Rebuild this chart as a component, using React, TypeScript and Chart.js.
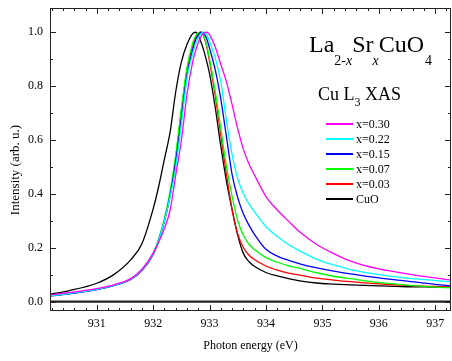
import { useEffect, useRef } from 'react';
import { Chart, registerables } from 'chart.js';

Chart.register(...registerables);

// ---- data ----
const ENERGY = [930.17, 930.5, 931.0, 931.3, 931.6, 931.8, 932.0, 932.1, 932.2, 932.3, 932.4, 932.5, 932.6, 932.7, 932.75, 932.8, 932.85, 932.9, 932.95, 933.0, 933.1, 933.2, 933.3, 933.4, 933.5, 933.6, 933.7, 933.8, 934.0, 934.2, 934.4, 934.6, 934.9, 935.2, 935.5, 936.0, 936.5, 937.0, 937.3];

const X030 = [0.025, 0.033, 0.048, 0.062, 0.085, 0.120, 0.180, 0.222, 0.272, 0.340, 0.470, 0.600, 0.770, 0.890, 0.930, 0.962, 0.985, 0.998, 1.000, 0.990, 0.945, 0.880, 0.815, 0.730, 0.640, 0.565, 0.510, 0.468, 0.390, 0.340, 0.298, 0.258, 0.212, 0.178, 0.150, 0.121, 0.103, 0.088, 0.079];
const X022 = [0.021, 0.030, 0.045, 0.060, 0.083, 0.117, 0.177, 0.230, 0.300, 0.390, 0.500, 0.660, 0.830, 0.920, 0.955, 0.980, 0.995, 1.000, 0.990, 0.965, 0.905, 0.815, 0.670, 0.545, 0.455, 0.400, 0.362, 0.332, 0.278, 0.242, 0.212, 0.188, 0.157, 0.136, 0.119, 0.100, 0.087, 0.078, 0.073];
const X015 = [0.020, 0.029, 0.044, 0.059, 0.082, 0.116, 0.176, 0.230, 0.300, 0.395, 0.520, 0.680, 0.840, 0.935, 0.970, 0.990, 1.000, 0.995, 0.975, 0.940, 0.860, 0.750, 0.610, 0.470, 0.385, 0.325, 0.283, 0.248, 0.194, 0.169, 0.153, 0.140, 0.125, 0.113, 0.103, 0.088, 0.076, 0.064, 0.058];
const X007 = [0.022, 0.030, 0.045, 0.060, 0.083, 0.118, 0.180, 0.235, 0.310, 0.410, 0.545, 0.720, 0.870, 0.960, 0.985, 0.998, 1.000, 0.985, 0.950, 0.900, 0.780, 0.640, 0.500, 0.390, 0.300, 0.245, 0.212, 0.192, 0.163, 0.146, 0.133, 0.123, 0.107, 0.094, 0.085, 0.071, 0.061, 0.054, 0.051];
const X003 = [0.022, 0.030, 0.045, 0.060, 0.082, 0.115, 0.175, 0.228, 0.300, 0.395, 0.535, 0.705, 0.860, 0.950, 0.980, 0.997, 1.000, 0.982, 0.945, 0.890, 0.765, 0.615, 0.470, 0.340, 0.250, 0.200, 0.172, 0.155, 0.132, 0.117, 0.106, 0.098, 0.087, 0.080, 0.074, 0.066, 0.060, 0.056, 0.054];
const CUO = [0.027, 0.040, 0.068, 0.100, 0.155, 0.215, 0.345, 0.430, 0.530, 0.630, 0.780, 0.890, 0.955, 0.995, 1.000, 0.988, 0.962, 0.930, 0.890, 0.845, 0.720, 0.575, 0.445, 0.340, 0.245, 0.178, 0.148, 0.130, 0.108, 0.095, 0.085, 0.077, 0.069, 0.065, 0.062, 0.058, 0.055, 0.054, 0.053];

const SERIES_LABELS = ['x=0.30', 'x=0.22', 'x=0.15', 'x=0.07', 'x=0.03', 'CuO'];
const SERIES_VALUES = [X030, X022, X015, X007, X003, CUO];
const SERIES_COLORS = ['#ff00ff', '#00ffff', '#0000ff', '#00ff00', '#ff0000', '#000000'];

const X_TICKS = [931, 932, 933, 934, 935, 936, 937];
const Y_TICKS = [0, 0.2, 0.4, 0.6, 0.8, 1.0];
const X_MIN = 930.17;
const X_MAX = 937.28;
const Y_MIN = -0.035;
const Y_MAX = 1.09;
const X_MINOR = 0.2;
const Y_MINOR = 0.1;

const X_TITLE = 'Photon energy (eV)';
const Y_TITLE = 'Intensity (arb. u.)';

const FONT = "'Liberation Serif', 'Times New Roman', serif";

const decorPlugin = {
  id: 'decor',
  afterDraw(chart: any) {
    const { ctx, chartArea, scales } = chart;
    const { left, right, top, bottom } = chartArea;
    const xs = scales.x;
    const ys = scales.y;
    ctx.save();

    // zero line
    const y0 = ys.getPixelForValue(0);
    ctx.strokeStyle = '#222';
    ctx.lineWidth = 2.2;
    ctx.beginPath();
    ctx.moveTo(left, y0);
    ctx.lineTo(right, y0);
    ctx.stroke();

    // frame
    ctx.lineWidth = 1;
    ctx.strokeStyle = '#222';
    ctx.strokeRect(left + 0.5, top + 0.5, right - left - 1, bottom - top - 1);

    // ticks (inward, all four sides)
    ctx.beginPath();
    const xi0 = Math.ceil(X_MIN / X_MINOR - 1e-6);
    const xi1 = Math.floor(X_MAX / X_MINOR + 1e-6);
    for (let i = xi0; i <= xi1; i++) {
      const v = i * X_MINOR;
      const major = Math.abs(v - Math.round(v)) < 1e-6;
      const len = major ? 6 : 3;
      const px = Math.round(xs.getPixelForValue(v)) + 0.5;
      ctx.moveTo(px, bottom);
      ctx.lineTo(px, bottom - len);
      ctx.moveTo(px, top);
      ctx.lineTo(px, top + len);
    }
    const yi0 = Math.ceil(Math.max(Y_MIN, 0) / Y_MINOR - 1e-6);
    const yi1 = Math.floor(Y_MAX / Y_MINOR + 1e-6);
    for (let i = yi0; i <= yi1; i++) {
      const v = i * Y_MINOR;
      const major = i % 2 === 0;
      const len = major ? 6 : 3;
      const py = Math.round(ys.getPixelForValue(v)) + 0.5;
      ctx.moveTo(left, py);
      ctx.lineTo(left + len, py);
      ctx.moveTo(right, py);
      ctx.lineTo(right - len, py);
    }
    ctx.stroke();

    // axis titles
    ctx.fillStyle = '#000';
    ctx.font = `12px ${FONT}`;
    ctx.textAlign = 'center';
    ctx.textBaseline = 'middle';
    ctx.fillText(X_TITLE, (left + right) / 2, 346);
    ctx.save();
    ctx.font = `13px ${FONT}`;
    ctx.translate(16, 170);
    ctx.rotate(-Math.PI / 2);
    ctx.fillText(Y_TITLE, 0, 0);
    ctx.restore();

    // big title La2-xSrxCuO4
    ctx.textAlign = 'left';
    ctx.textBaseline = 'alphabetic';
    const parts: [string, number, boolean, number, number][] = [
      ['La', 24, false, 0, 0],
      ['2-', 14, false, 13, 0],
      ['x', 14, true, 13, 0],
      ['Sr', 24, false, 0, 0],
      ['x', 14, true, 13, -1],
      ['CuO', 24, false, 0, 0],
      ['4', 14, false, 13, 1],
    ];
    let tx = 309;
    const baseY = 52;
    for (const [t, size, italic, dy, dx] of parts) {
      ctx.font = `${italic ? 'italic ' : ''}${size}px ${FONT}`;
      tx += dx;
      ctx.fillText(t, tx, baseY + dy);
      tx += ctx.measureText(t).width;
    }

    // Cu L3 XAS
    const parts2: [string, number, number][] = [
      ['Cu L', 18, 0],
      ['3', 12, 6],
      [' XAS', 18, 0],
    ];
    tx = 318;
    for (const [t, size, dy] of parts2) {
      ctx.font = `${size}px ${FONT}`;
      ctx.fillText(t, tx, 100 + dy);
      tx += ctx.measureText(t).width;
    }

    // legend
    ctx.font = `12px ${FONT}`;
    ctx.textBaseline = 'middle';
    chart.data.datasets.forEach((ds: any, i: number) => {
      const ly = 124 + i * 15;
      ctx.strokeStyle = ds.borderColor;
      ctx.lineWidth = 2;
      ctx.beginPath();
      ctx.moveTo(326, ly);
      ctx.lineTo(353, ly);
      ctx.stroke();
      ctx.fillStyle = '#000';
      ctx.fillText(ds.label, 356, ly + 0.5);
    });

    ctx.restore();
  },
};

export default function App() {
  const ref = useRef<HTMLCanvasElement | null>(null);

  useEffect(() => {
    if (!ref.current) return;
    const datasets = SERIES_LABELS.map((label, si) => ({
      label,
      data: ENERGY.map((x, i) => ({ x, y: SERIES_VALUES[si][i] })),
      borderColor: SERIES_COLORS[si],
      backgroundColor: SERIES_COLORS[si],
      borderWidth: 1.3,
      pointRadius: 0,
      fill: false,
      cubicInterpolationMode: 'monotone' as const,
    }));

    const chart = new Chart(ref.current, {
      type: 'line',
      data: { datasets },
      options: {
        animation: false,
        responsive: false,
        devicePixelRatio: 1,
        layout: { padding: { top: 8, right: 1, left: 0, bottom: 0 } },
        plugins: { legend: { display: false }, tooltip: { enabled: false } },
        scales: {
          x: {
            type: 'linear',
            min: X_MIN,
            max: X_MAX,
            afterBuildTicks: (s: any) => {
              s.ticks = X_TICKS.map((v) => ({ value: v }));
            },
            afterFit: (s: any) => {
              s.height = 50;
              s.paddingLeft = 0;
              s.paddingRight = 0;
              s.paddingTop = 0;
              s.paddingBottom = 0;
            },
            ticks: {
              font: { family: FONT, size: 12 },
              color: '#000',
              padding: 6,
              maxRotation: 0,
              autoSkip: false,
              callback: (v: any) => String(v),
            },
            grid: { display: false, drawTicks: false },
            border: { display: false },
          },
          y: {
            type: 'linear',
            min: Y_MIN,
            max: Y_MAX,
            afterBuildTicks: (s: any) => {
              s.ticks = Y_TICKS.map((v) => ({ value: v }));
            },
            afterFit: (s: any) => {
              s.width = 50;
              s.paddingLeft = 0;
              s.paddingRight = 0;
              s.paddingTop = 0;
              s.paddingBottom = 0;
            },
            ticks: {
              font: { family: FONT, size: 12 },
              color: '#000',
              padding: 7,
              autoSkip: false,
              callback: (v: any) => Number(v).toFixed(1),
            },
            grid: { display: false, drawTicks: false },
            border: { display: false },
          },
        },
      },
      plugins: [decorPlugin],
    });
    return () => chart.destroy();
  }, []);

  return (
    <div style={{ position: 'fixed', left: 0, top: 0, width: 452, height: 361, background: '#fff' }}>
      <canvas ref={ref} width={452} height={361} style={{ width: 452, height: 361, display: 'block' }} />
    </div>
  );
}
